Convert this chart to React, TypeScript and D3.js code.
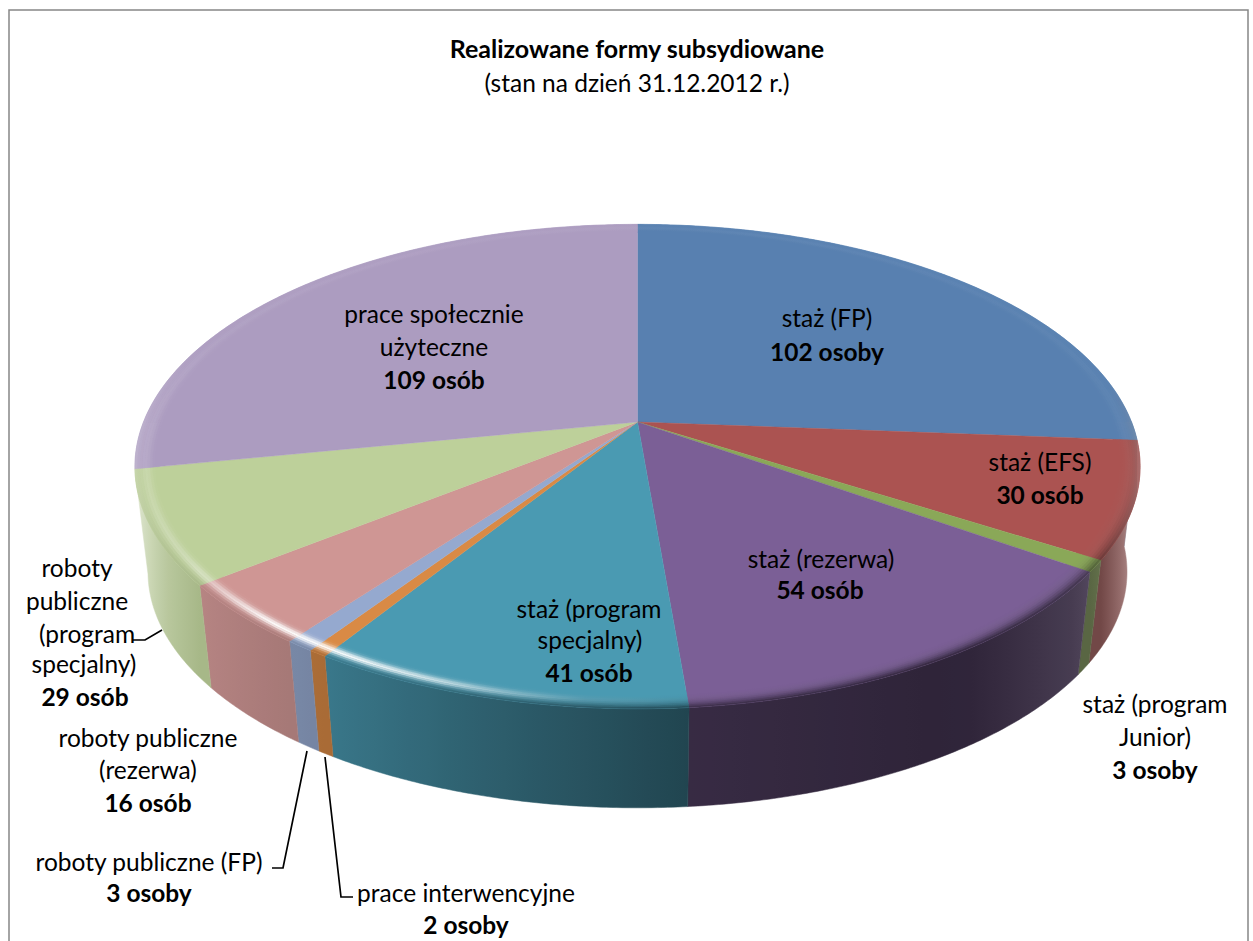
import React from "react";
import * as d3 from "d3";

const W = 1253, H = 941;
const categories = ["staż (FP)", "staż (EFS)", "staż (program Junior)", "staż (rezerwa)", "staż (program specjalny)", "prace interwencyjne", "roboty publiczne (FP)", "roboty publiczne (rezerwa)", "roboty publiczne (program specjalny)", "prace społecznie użyteczne"];
const values = [102, 30, 3, 54, 41, 2, 3, 16, 29, 109];
const colors = ["#5880b0", "#ab5351", "#8aa858", "#7b5f96", "#4a9ab2", "#d98a45", "#95a9cf", "#cf9694", "#bdd09a", "#ac9cc0"];

const titleLines = ["Realizowane formy subsydiowane", "(stan na dzień 31.12.2012 r.)"];
type L = { t: string; x: number; y: number; b?: boolean };
const labels: L[] = [
  { t: "staż (FP)", x: 827, y: 327 }, { t: "102 osoby", x: 827, y: 361, b: true },
  { t: "staż (EFS)", x: 1040, y: 471 }, { t: "30 osób", x: 1040, y: 504, b: true },
  { t: "staż (rezerwa)", x: 821, y: 568 }, { t: "54 osób", x: 820, y: 599, b: true },
  { t: "staż (program", x: 589, y: 618 }, { t: "specjalny)", x: 590, y: 649 }, { t: "41 osób", x: 589, y: 682, b: true },
  { t: "prace społecznie", x: 434, y: 323 }, { t: "użyteczne", x: 434, y: 356 }, { t: "109 osób", x: 434, y: 389, b: true },
  { t: "roboty", x: 77, y: 577 }, { t: "publiczne", x: 77, y: 610 }, { t: "(program", x: 87, y: 643 }, { t: "specjalny)", x: 84, y: 673 }, { t: "29 osób", x: 85, y: 706, b: true },
  { t: "roboty publiczne", x: 148, y: 747 }, { t: "(rezerwa)", x: 148, y: 779 }, { t: "16 osób", x: 148, y: 812, b: true },
  { t: "roboty publiczne (FP)", x: 149, y: 871 }, { t: "3 osoby", x: 149, y: 902, b: true },
  { t: "prace interwencyjne", x: 466, y: 902 }, { t: "2 osoby", x: 466, y: 934, b: true },
  { t: "staż (program", x: 1155, y: 713 }, { t: "Junior)", x: 1155, y: 746 }, { t: "3 osoby", x: 1155, y: 779, b: true },
];
const leaders: [number, number][][] = [
  [[133, 640], [145, 640], [162, 630]],
  [[307, 751], [283, 868], [272, 868]],
  [[325, 757], [341, 897], [353, 897]],
];

// projection of the tilted disc (homography of the unit circle)
const CX = 637.5, CY = 422, K = 0.184, A = 494, B = 234, S = 0.974, YB = 528.5;
const deg = Math.PI / 180;
const warpDeg = d3.scaleLinear<number>().domain([0, 94, 175, 190, 213, 235, 280, 360]).range([0, 0, 0.2, 0, -0.55, -0.55, 0, 0]);
const top = (a: number, t = 1): [number, number] => {
  const w0 = a + warpDeg(a / deg) * deg, u = Math.sin(w0) * t, v = Math.cos(w0) * t, w = 1 + K * v;
  return [CX + (A * u) / w, CY - (B * v) / w];
};
const bottom = (a: number): [number, number] => {
  const [x, y] = top(a);
  return [CX + S * (x - CX), YB + S * (y - CY)];
};
const shade = d3.scaleLinear<number>().domain([0, 80, 100, 115, 122, 128, 150, 175, 195, 213, 232, 250, 265, 290, 360]).range([1, 1, 0.75, 0.65, 0.55, 0.42, 0.38, 0.45, 0.62, 0.78, 0.88, 0.95, 1, 1, 1]).clamp(true);
const wash = d3.scaleLinear<number>().domain([0, 80, 95, 108, 115, 122, 132, 145, 232, 240, 250, 262, 272, 290, 360]).range([0.05, 0.05, 0.6, 0.55, 0.3, 0.13, 0.08, 0, 0, 0.15, 0.45, 0.65, 0.5, 0.1, 0.05]).clamp(true);
const glow = d3.scaleLinear<number>().domain([0, 175, 185, 192, 200, 210, 220, 228, 235, 250, 270, 300, 360]).range([0.05, 0.02, 0.1, 0.35, 0.7, 0.95, 0.95, 0.55, 0.3, 0.15, 0.1, 0.06, 0.05]).clamp(true);
const wallColor = (base: string, aDeg: number, wf = 1) => {
  const c = d3.rgb(base), m = shade(aDeg), wa = wash(aDeg) * wf;
  return d3.interpolateRgb(d3.rgb(c.r * m, c.g * m, c.b * m), "#ffffff")(wa);
};
const lineGen = d3.line<[number, number]>();
const poly = (pts: [number, number][]) => lineGen(pts) + "Z";
const arcPts = (f: (a: number) => [number, number], a0: number, a1: number) => {
  const n = Math.max(2, Math.ceil(Math.abs(a1 - a0) / (0.5 * deg)));
  return d3.range(n + 1).map((j) => f(a0 + ((a1 - a0) * j) / n));
};
// horizontal gradient along an arc whose x is monotonic
function gradient(id: string, a0: number, a1: number, col: (aDeg: number) => string) {
  const x0 = top(a0)[0], x1 = top(a1)[0];
  const n = Math.max(2, Math.ceil((a1 - a0) / (2 * deg)));
  return (
    <linearGradient key={id} id={id} gradientUnits="userSpaceOnUse" x1={x0} x2={x1} y1={0} y2={0}>
      {d3.range(n + 1).map((j) => {
        const a = a0 + ((a1 - a0) * j) / n;
        return <stop key={j} offset={(top(a)[0] - x0) / (x1 - x0)} stopColor={col(a / deg)} />;
      })}
    </linearGradient>
  );
}

const pieGen = d3.pie<number>().sort(null)(values);

export default function App() {
  const defs: JSX.Element[] = [];
  const faces: JSX.Element[] = [];
  const walls: JSX.Element[] = [];
  const bevels: JSX.Element[] = [];
  const bandCount = 10, inner = 0.952;
  pieGen.forEach((s, i) => {
    const base = colors[i];
    const pts: [number, number][] = [[CX, CY], ...arcPts((a) => top(a), s.startAngle, s.endAngle)];
    faces.push(<path key={`f${i}`} d={poly(pts)} fill={base} stroke={base} strokeWidth={0.4} />);

    // the last slice starts at the left silhouette: it has no visible wall
    const lo = Math.max(s.startAngle, 90 * deg), hi = Math.min(s.endAngle, 270 * deg);
    if (hi > lo && i < values.length - 1) {
      const id = `w${i}`;
      defs.push(gradient(id, lo, hi, (d) => wallColor(base, d)));
      const path = poly([...arcPts((a) => top(a), lo, hi), ...arcPts(bottom, hi, lo)]);
      walls.push(<path key={id} d={path} fill={`url(#${id})`} stroke={`url(#${id})`} strokeWidth={0.5} />);
    }
    // rounded rim: one thin ring per band, split where x turns back
    const cuts = [s.startAngle, 90 * deg, 270 * deg, s.endAngle].filter((a) => a >= s.startAngle && a <= s.endAngle).sort((a, b) => a - b);
    d3.range(cuts.length - 1).forEach((c) => {
      const a0 = cuts[c], a1 = cuts[c + 1];
      d3.range(bandCount).forEach((b) => {
        const p0 = b / bandCount, p1 = (b + 1) / bandCount, pm = (p0 + p1) / 2;
        const t0 = inner + (1 - inner) * p0, t1 = inner + (1 - inner) * p1;
        const toWall = Math.pow(pm, 3);
        const hump = Math.exp(-Math.pow((pm - 0.55) / 0.2, 2));
        const id = `b${i}-${c}-${b}`;
        defs.push(gradient(id, a0, a1, (d) => d3.interpolateRgb(d3.interpolateRgb(base, wallColor(base, d, 0.4))(toWall), "#ffffff")(hump * glow(d))));
        const path = poly([...arcPts((a) => top(a, t0), a0, a1), ...arcPts((a) => top(a, t1), a1, a0)]);
        bevels.push(<path key={id} d={path} fill={`url(#${id})`} stroke={`url(#${id})`} strokeWidth={0.4} />);
      });
    });
  });
  const font = "Lato, Carlito, Calibri, sans-serif";
  return (
    <svg width={W} height={H} viewBox={`0 0 ${W} ${H}`} style={{ position: "absolute", left: 0, top: 0, background: "#fff" }} fontFamily={font}>
      <title>{categories.join(", ")}</title>
      <defs>{defs}</defs>
      <path d={`M9 ${H}V10H1248V${H}`} fill="none" stroke="#868686" strokeWidth={1.5} />
      <text x={637} y={58} textAnchor="middle" fontSize={25} fontWeight={700} fill="#000">{titleLines[0]}</text>
      <text x={637} y={92} textAnchor="middle" fontSize={24.5} fill="#000">{titleLines[1]}</text>
      <g>{walls}</g>
      <g>{faces}</g>
      <g>{bevels}</g>
      {leaders.map((l, i) => (
        <path key={i} d={lineGen(l) as string} fill="none" stroke="#000" strokeWidth={1.7} />
      ))}
      {labels.map((l, i) => (
        <text key={i} x={l.x} y={l.y} textAnchor="middle" fontSize={24.5} fontWeight={l.b ? 700 : 400} fill="#000">{l.t}</text>
      ))}
    </svg>
  );
}
